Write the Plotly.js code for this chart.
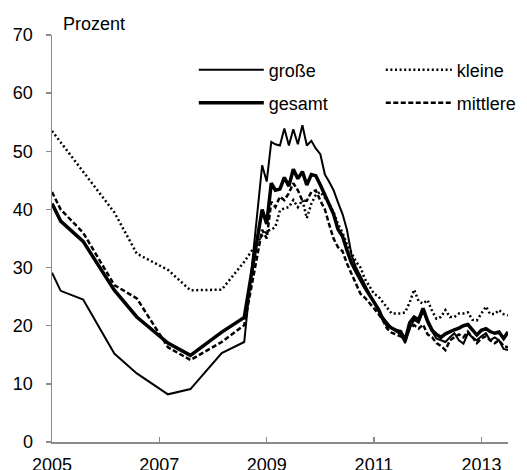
<!DOCTYPE html>
<html><head><meta charset="utf-8">
<script src="https://cdn.plot.ly/plotly-3.0.1.min.js"></script>
<style>html,body{margin:0;padding:0;background:#fff}#chart{width:527px;height:470px}</style>
</head><body><div id="chart"></div>
<script>
// Survey dates: semiannual until Aug 2008, monthly from Dec 2008
const dates = ['2005-01-01','2005-03-01','2005-08-01','2006-03-01','2006-08-01','2007-03-01','2007-08-01','2008-03-01','2008-08-01',
 '2008-12-01','2009-01-01','2009-02-01','2009-03-01','2009-04-01','2009-05-01','2009-06-01','2009-07-01','2009-08-01','2009-09-01','2009-10-01','2009-11-01','2009-12-01',
 '2010-01-01','2010-02-01','2010-03-01','2010-04-01','2010-05-01','2010-06-01','2010-07-01','2010-08-01','2010-09-01','2010-10-01','2010-11-01','2010-12-01',
 '2011-01-01','2011-02-01','2011-03-01','2011-04-01','2011-05-01','2011-06-01','2011-07-01','2011-08-01','2011-09-01','2011-10-01','2011-11-01','2011-12-01',
 '2012-01-01','2012-02-01','2012-03-01','2012-04-01','2012-05-01','2012-06-01','2012-07-01','2012-08-01','2012-09-01','2012-10-01','2012-11-01','2012-12-01',
 '2013-01-01','2013-02-01','2013-03-01','2013-04-01','2013-05-01','2013-06-01','2013-07-01'];

const grosse = [29.1,26.0,24.5,15.2,11.8,8.2,9.1,15.3,17.2,
 47.6,44.8,51.6,51.2,51.0,53.9,51.0,53.8,51.2,54.5,51.0,51.8,50.5,
 49.5,46.0,44.8,43.3,41.2,39.2,36.5,32.2,30.0,28.5,27.0,25.5,
 23.8,22.5,21.5,20.5,19.6,19.0,18.5,17.0,19.5,21.0,20.5,22.5,
 20.5,19.0,17.8,17.5,17.2,18.0,18.7,17.5,16.9,18.7,18.0,17.5,
 18.2,18.7,17.5,18.0,17.5,16.0,15.8];

const gesamt = [41.0,38.0,34.5,26.1,21.5,17.0,14.9,18.9,21.4,
 40.0,37.5,44.5,43.3,43.5,45.5,44.0,46.9,45.3,46.5,44.2,46.0,45.8,
 44.2,42.5,40.8,39.2,36.6,35.4,33.0,30.8,29.3,27.8,26.5,25.3,
 24.0,22.8,21.2,20.1,19.6,19.2,19.0,17.5,20.5,21.5,21.0,23.0,
 20.8,19.2,18.5,18.0,18.6,19.0,19.3,19.6,20.0,20.2,19.3,18.4,
 19.2,19.5,19.0,18.7,18.9,17.8,18.9];

const kleine = [53.5,51.5,46.5,39.5,32.4,29.6,26.1,26.2,31.0,
 35.5,36.3,36.5,37.0,39.8,40.2,40.4,41.6,40.4,41.6,38.5,41.0,42.5,
 43.0,42.0,41.0,39.5,37.5,36.0,34.0,32.5,31.0,30.0,28.0,26.8,
 25.5,25.0,24.1,23.0,22.1,22.1,22.1,22.3,24.0,26.2,24.2,23.8,
 24.4,22.5,21.2,21.5,22.7,21.5,21.5,22.1,22.1,22.3,21.0,20.9,
 22.1,23.3,22.0,22.0,22.7,22.0,21.8];

const mittlere = [43.0,40.0,36.0,27.0,24.7,16.3,14.1,17.2,20.1,
 36.5,35.0,41.3,40.4,42.2,41.6,42.8,44.5,43.3,41.5,41.5,43.0,43.3,
 41.5,40.0,37.5,35.0,33.5,32.8,30.7,29.0,27.0,25.5,24.8,24.0,
 23.0,22.0,21.0,19.5,18.8,18.5,18.2,17.8,19.5,20.1,19.5,20.2,
 18.5,18.0,17.0,16.5,15.8,17.5,18.0,18.5,18.0,19.0,18.0,17.0,
 17.8,18.2,17.5,17.0,17.5,16.5,16.3];

const tickYears = ['2005-01-01','2007-01-01','2009-01-01','2011-01-01','2013-01-01'];
const tickLabels = ['2005','2007','2009','2011','2013'];

const FONT = 'Liberation Sans, Arial, sans-serif';
const traces = [
  {name:'große', x:dates, y:grosse, mode:'lines', line:{color:'#000', width:2}, legend:'legend'},
  {name:'kleine', x:dates, y:kleine, mode:'lines', line:{color:'#000', width:2.5, dash:'2px,2.6px'}, legend:'legend2'},
  {name:'gesamt', x:dates, y:gesamt, mode:'lines', line:{color:'#000', width:3.5}, legend:'legend3'},
  {name:'mittlere', x:dates, y:mittlere, mode:'lines', line:{color:'#000', width:2.5, dash:'5px,2.5px'}, legend:'legend4'}
];
function leg(x, y, w) {
  return {orientation:'v', xref:'paper', yref:'paper', xanchor:'left', yanchor:'middle', x:x, y:y,
    font:{family:FONT, size:18, color:'#000'}, bgcolor:'rgba(0,0,0,0)', borderwidth:0, itemwidth:w};
}
const layout = {
  width:527, height:470,
  margin:{l:52, r:19, t:35, b:28, autoexpand:false},
  paper_bgcolor:'#fff', plot_bgcolor:'#fff',
  font:{family:FONT, size:18, color:'#000'},
  showlegend:true,
  legend:leg(0.311, 0.914, 65),
  legend2:leg(0.721, 0.914, 66),
  legend3:leg(0.311, 0.833, 65),
  legend4:leg(0.721, 0.833, 66),
  xaxis:{type:'date', range:['2005-01-01','2013-07-01'], tickmode:'array', tickvals:tickYears, ticktext:tickLabels,
    showgrid:false, zeroline:false, showline:true, linecolor:'#8a8a8a', linewidth:1.5,
    ticks:'inside', ticklen:5, tickwidth:1.5, tickcolor:'#8a8a8a', ticklabelstandoff:6,
    tickfont:{family:FONT, size:18, color:'#000'}},
  yaxis:{range:[0,70], tickmode:'array', tickvals:[0,10,20,30,40,50,60,70],
    showgrid:false, zeroline:false, showline:true, linecolor:'#8a8a8a', linewidth:1.5,
    ticks:'outside', ticklen:5, tickwidth:1.5, tickcolor:'#8a8a8a', ticklabelstandoff:9,
    tickfont:{family:FONT, size:18, color:'#000'}},
  annotations:[{text:'Prozent', xref:'paper', yref:'paper', x:0.02, y:1.0, xanchor:'left', yanchor:'bottom',
    showarrow:false, font:{family:FONT, size:18, color:'#000'}, yshift:-1}]
};
Plotly.newPlot('chart', traces, layout, {displayModeBar:false, staticPlot:true});
</script></body></html>
